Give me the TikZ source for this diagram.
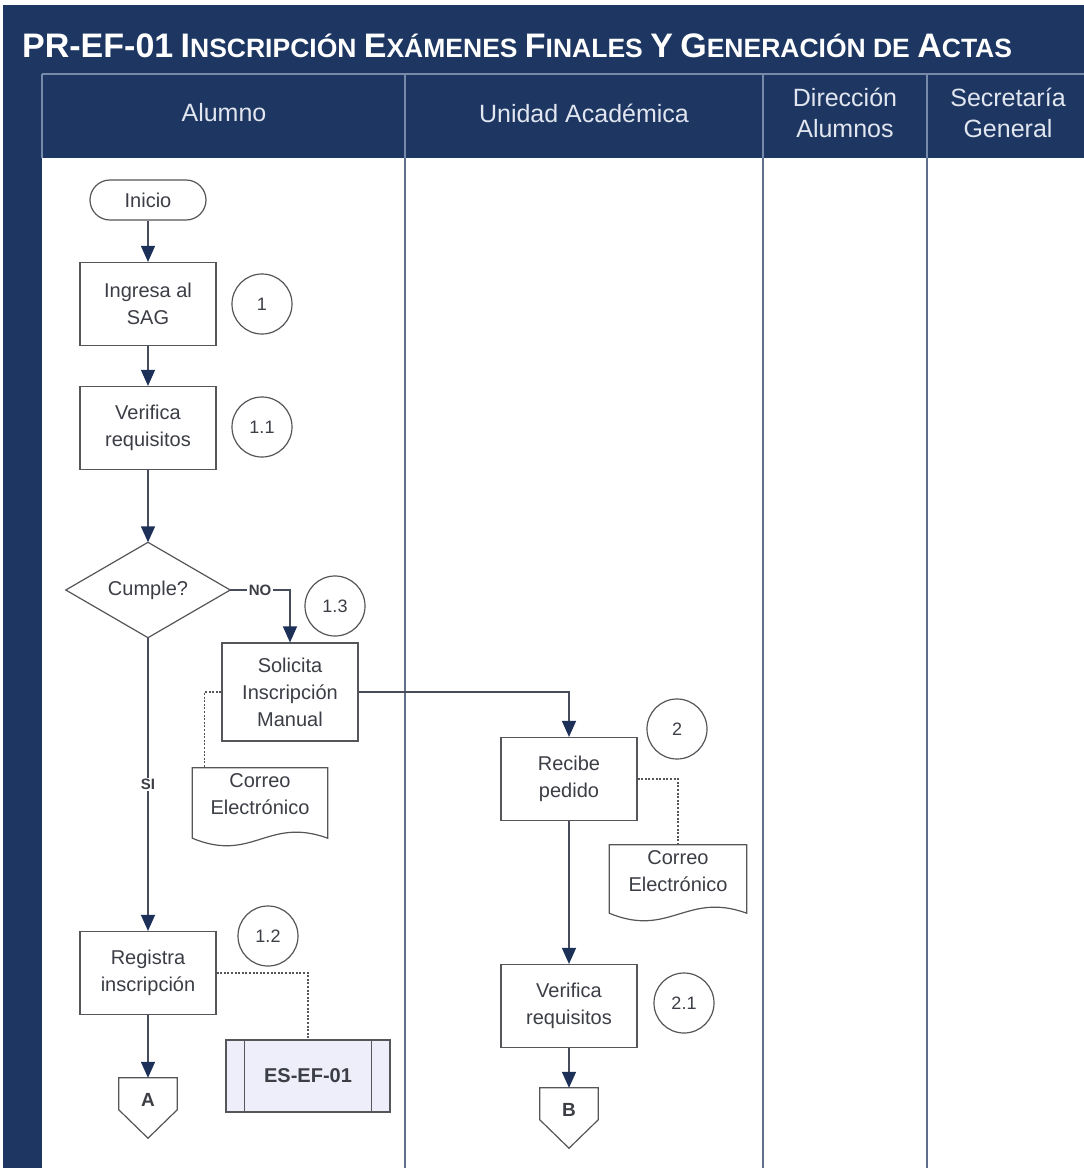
\documentclass[tikz,border=0pt]{standalone}
\usepackage{fontspec}
\setmainfont{Liberation Sans}
\usetikzlibrary{arrows.meta,calc}
\definecolor{navy}{RGB}{30,55,98}
\definecolor{hdrline}{RGB}{120,138,170}
\definecolor{laneline}{RGB}{95,110,140}
\definecolor{boxc}{RGB}{85,85,90}
\definecolor{txt}{RGB}{60,62,70}
\definecolor{linec}{RGB}{70,76,90}
\definecolor{tipc}{RGB}{28,48,88}
\definecolor{hdrtxt}{RGB}{225,230,240}
\definecolor{esfill}{RGB}{238,238,250}
\newcommand{\tcap}[2]{{\fontsize{34}{34}\selectfont #1}{\fontsize{26.5}{26.5}\selectfont #2}}
\tikzset{
  proc/.style={draw=boxc, line width=1.2, fill=white, minimum width=136, minimum height=83,
    align=center, text=txt, font=\fontsize{20}{27}\selectfont, inner sep=2},
  num/.style={circle, draw=boxc, line width=1.2, minimum size=60, inner sep=0,
    font=\fontsize{18}{18}\selectfont, text=txt},
  flow/.style={draw=linec, line width=1.4, -{Triangle[length=16pt,width=14pt,color=tipc]}},
  dotl/.style={draw=boxc, line width=1.3, dash pattern=on 2pt off 1.6pt},
  lbl/.style={fill=white, inner sep=1.5, text=txt, font=\bfseries\fontsize{15}{15}\selectfont},
  hdr/.style={align=center, text=hdrtxt, font=\fontsize{25}{31}\selectfont},
  ghost/.style={draw=none, inner sep=0, align=center, text=txt},
  shapeline/.style={draw=boxc, line width=1.2, fill=white},
}
\begin{document}
\begin{tikzpicture}[x=1pt, y=-1pt]
\useasboundingbox (0,0) rectangle (1084,1168);
% background
\fill[navy] (3,5) rectangle (1084,1168);
\fill[white] (42,158) rectangle (1084,1168);
% header lines
\draw[hdrline, line width=1.2] (42,74) -- (1084,74);
\foreach \xx in {42,405,763,927} \draw[hdrline, line width=1.5] (\xx,74) -- (\xx,158);
\foreach \xx in {405,763,927} \draw[laneline, line width=2] (\xx,158) -- (\xx,1168);
% title
\node[anchor=west, text=white, font=\bfseries\fontsize{26.5}{26.5}\selectfont, inner sep=0] (title) at (22,46)
  {{\fontsize{34}{34}\selectfont PR-EF-01} \tcap{I}{NSCRIPCIÓN} \tcap{E}{XÁMENES} \tcap{F}{INALES} \tcap{Y}{} \tcap{G}{ENERACIÓN} DE \tcap{A}{CTAS}};
% lane headers
\node[hdr] (hA) at (224,113) {Alumno};
\node[hdr] (hU) at (584,113) {Unidad Académica};
\node[hdr] (hD) at (845,113) {Dirección\\Alumnos};
\node[hdr] (hS) at (1008,113) {Secretaría\\General};
% nodes
\node[proc, rounded corners=20, minimum width=116, minimum height=40] (inicio) at (148,200) {Inicio};
\node[proc] (ing) at (148,304) {Ingresa al\\SAG};
\node[num] (n1) at (262,304) {1};
\node[proc] (ver1) at (148,428) {Verifica\\requisitos};
\node[num] (n11) at (262,427) {1.1};
\node[ghost, minimum width=164, minimum height=95] (cum) at (148,590) {};
\draw[shapeline] (cum.north) -- (cum.east) -- (cum.south) -- (cum.west) -- cycle;
\node[ghost, font=\fontsize{20}{24}\selectfont] (cumt) at (cum.center) {Cumple?};
\node[num] (n13) at (335,606) {1.3};
\node[proc, minimum height=98] (sol) at (290,692) {Solicita\\Inscripción\\Manual};
% document left
\node[ghost, minimum width=135, minimum height=70] (doc1) at (260,803) {};
\draw[shapeline] (doc1.south west) -- (doc1.north west) -- (doc1.north east) -- (doc1.south east)
  .. controls ($(doc1.south east)+(-60,-22)$) and ($(doc1.south west)+(60,25)$) .. (doc1.south west) -- cycle;
\node[ghost, font=\fontsize{20}{27}\selectfont, anchor=north] (doc1t) at ($(doc1.north)+(0,6)$) {Correo\\Electrónico};
\node[num] (n2) at (677,729) {2};
\node[proc] (rec) at (569,779) {Recibe\\pedido};
% document right
\node[ghost, minimum width=137, minimum height=68] (doc2) at (678,879) {};
\draw[shapeline] (doc2.south west) -- (doc2.north west) -- (doc2.north east) -- (doc2.south east)
  .. controls ($(doc2.south east)+(-60,-22)$) and ($(doc2.south west)+(60,25)$) .. (doc2.south west) -- cycle;
\node[ghost, font=\fontsize{20}{27}\selectfont, anchor=north] (doc2t) at ($(doc2.north)+(0,6)$) {Correo\\Electrónico};
\node[proc] (ver2) at (569,1006) {Verifica\\requisitos};
\node[num] (n21) at (684,1003) {2.1};
\node[num] (n12) at (268,936) {1.2};
\node[proc] (reg) at (148,973) {Registra\\inscripción};
% ES-EF-01 predefined process
\node[draw=boxc, line width=1.2, fill=esfill, minimum width=164, minimum height=72, inner sep=0,
  font=\bfseries\fontsize{20}{20}\selectfont, text=txt] (es) at (308,1076) {ES-EF-01};
\draw[draw=boxc, line width=1.2] ($(es.north west)+(19,0)$) -- ($(es.south west)+(19,0)$)
  ($(es.north east)+(-19,0)$) -- ($(es.south east)+(-19,0)$);
% off-page connectors
\node[ghost, minimum width=58, minimum height=60] (A) at (148,1108) {};
\draw[shapeline] (A.north west) -- (A.north east) -- ($(A.north east)+(0,32)$) -- (A.south) -- ($(A.north west)+(0,32)$) -- cycle;
\node[ghost, font=\bfseries\fontsize{19}{19}\selectfont] (At) at ($(A.north)+(0,22)$) {A};
\node[ghost, minimum width=58, minimum height=60] (B) at (569,1118) {};
\draw[shapeline] (B.north west) -- (B.north east) -- ($(B.north east)+(0,32)$) -- (B.south) -- ($(B.north west)+(0,32)$) -- cycle;
\node[ghost, font=\bfseries\fontsize{19}{19}\selectfont] (Bt) at ($(B.north)+(0,22)$) {B};
% connectors
\draw[flow] (inicio) -- (ing);
\draw[flow] (ing) -- (ver1);
\draw[flow] (ver1) -- (cum.north);
\draw[flow] (cum.east) -- node[lbl]{NO} (sol.north |- cum.east) -- (sol.north);
\draw[flow] (cum.south) -- node[lbl, pos=0.5]{SI} (reg.north);
\draw[flow] (sol.east) -| (rec.north);
\draw[flow] (rec) -- (ver2);
\draw[flow] (ver2.south) -- (B.north);
\draw[flow] (reg.south) -- (A.north);
\draw[dotl] (sol.west) -| ($(doc1.north west)+(12,0)$);
\draw[dotl] (rec.east) -| (doc2.north);
\draw[dotl] (reg.east) -| (es.north);
\end{tikzpicture}
\end{document}
